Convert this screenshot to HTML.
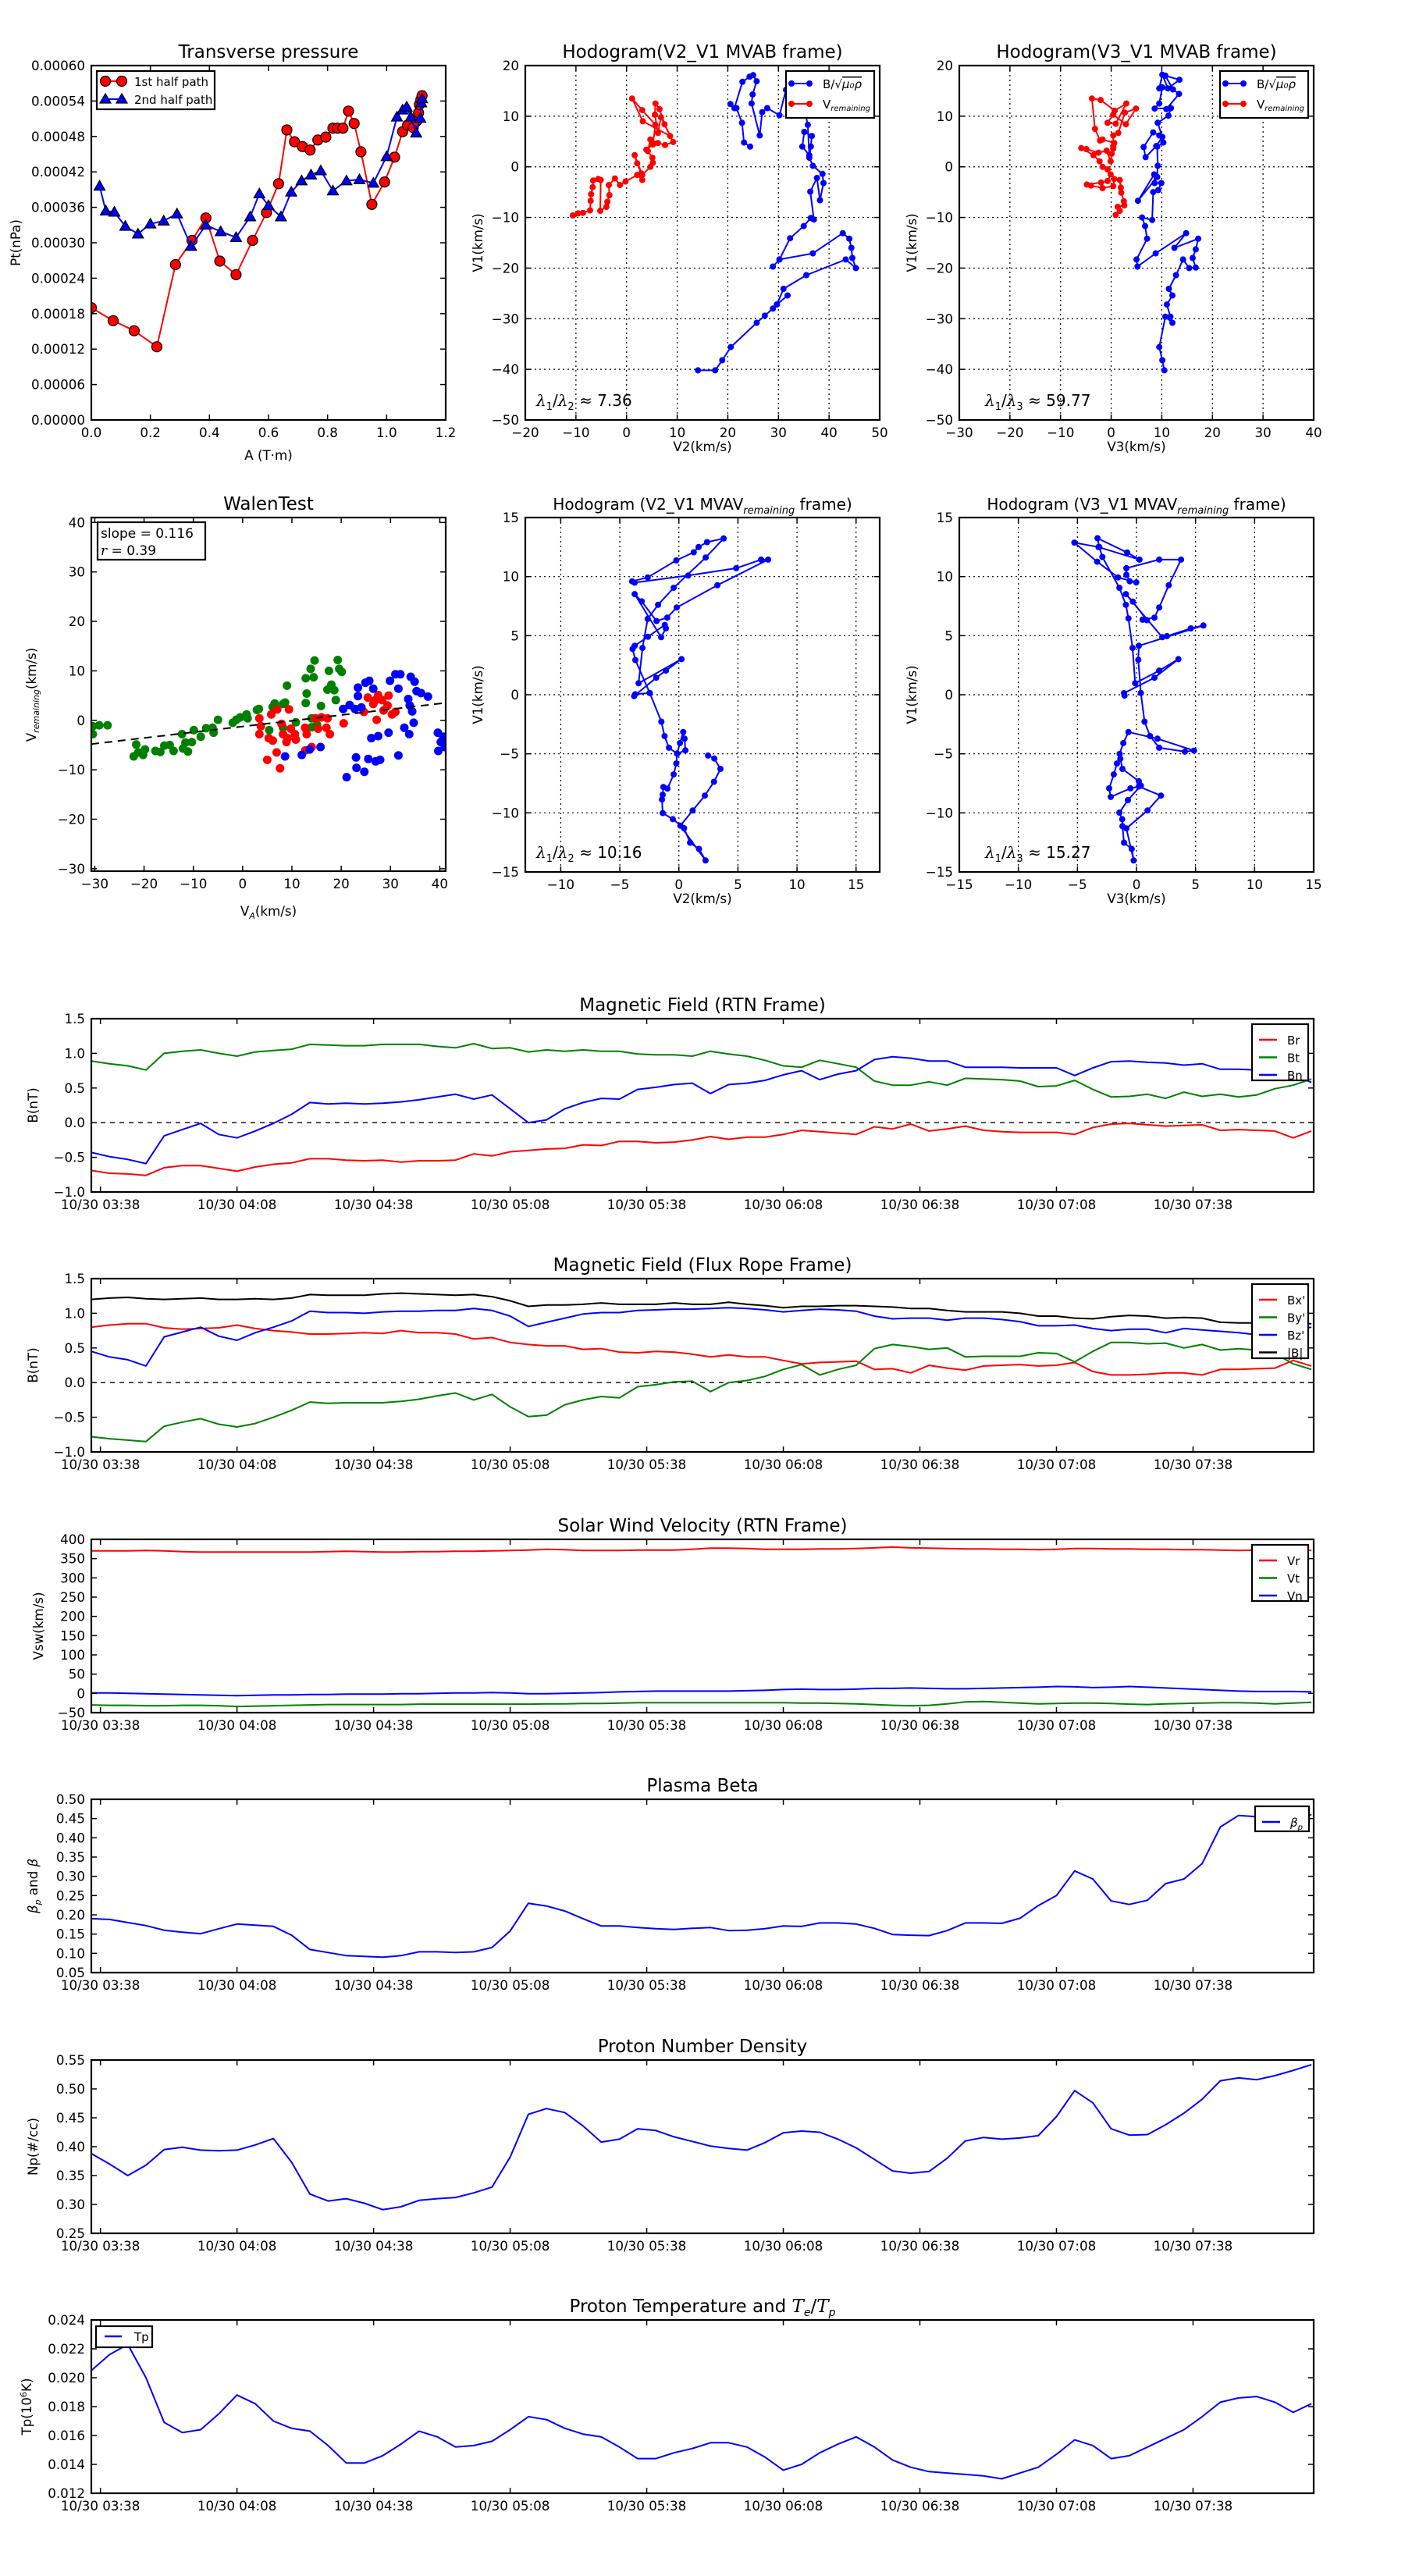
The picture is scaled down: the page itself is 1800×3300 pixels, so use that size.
<!DOCTYPE html>
<html><head><meta charset="utf-8"><title>Flux rope analysis</title>
<style>
html,body{margin:0;padding:0;background:#fff;}
svg{display:block;font-family:"DejaVu Sans","Liberation Sans",sans-serif;}
</style></head>
<body>
<svg id="fig" xmlns="http://www.w3.org/2000/svg" width="1800" height="3300" viewBox="0 0 1800 3300">
<rect x="0" y="0" width="1800" height="3300" fill="#fff"/>
<defs id="defs"></defs>
</svg>
<script>
// ---------- Transverse pressure ----------
const ptA1 = [0,0.074,0.145,0.222,0.285,0.341,0.388,0.435,0.490,0.546,0.593,0.634,0.662,0.688,0.715,0.741,0.767,0.794,0.818,0.834,0.852,0.871,0.890,0.913,0.950,0.993,1.027,1.054,1.071,1.090,1.102,1.108,1.111,1.116,1.120];
const ptP1 = [0.000190,0.000168,0.000151,0.000124,0.000263,0.000304,0.000342,0.000269,0.000246,0.000304,0.000351,0.000400,0.000491,0.000471,0.000463,0.000457,0.000474,0.000479,0.000494,0.000494,0.000494,0.000523,0.000502,0.000454,0.000365,0.000403,0.000445,0.000488,0.000499,0.000495,0.000506,0.000520,0.000534,0.000542,0.000549];
const ptA2 = [0.028,0.049,0.078,0.115,0.158,0.200,0.245,0.290,0.338,0.388,0.438,0.490,0.538,0.569,0.600,0.642,0.677,0.712,0.744,0.777,0.818,0.864,0.908,0.955,1.000,1.035,1.054,1.068,1.082,1.100,1.114,1.117,1.120];
const ptP2 = [0.000396,0.000354,0.000352,0.000328,0.000315,0.000332,0.000337,0.000349,0.000294,0.000330,0.000319,0.000309,0.000344,0.000383,0.000363,0.000344,0.000386,0.000405,0.000415,0.000422,0.000388,0.000405,0.000407,0.000401,0.000446,0.000513,0.000525,0.000530,0.000513,0.000486,0.000511,0.000537,0.000544];

// ---------- Hodogram V2_V1 MVAB ----------
const h1BlueX = [14.1,17.5,18.9,20.6,25.7,27.3,28.9,29.7,31.8,29.7,31.0,35.5,43.3,45.3,44.6,44.4,44.0,42.7,36.8,30.2,28.9,30.2,32.3,35.0,36.4,37.0,36.3,37.6,38.2,38.9,38.7,36.8,36.1,36.4,36.6,35.1,34.7,36.1,35.8,35.3,31.5,30.2,27.8,26.8,26.3,24.7,24.9,25.7,25.0,24.3,22.9,21.3,20.5,21.7,22.8,23.2,24.4];
const h1BlueY = [-40.2,-40.2,-38.2,-35.6,-30.8,-29.4,-28.0,-27.2,-25.4,-27.2,-24.1,-21.4,-18.3,-20.0,-18.0,-16.0,-14.2,-13.1,-17.1,-18.3,-19.7,-18.3,-14.1,-11.7,-10.1,-10.4,-4.9,-2.2,-6.6,-3.2,-1.4,0.2,1.8,4.0,6.1,6.9,4.0,2.3,8.3,10.6,15.2,10.2,11.6,10.8,6.2,12.5,14.3,16.9,18.1,17.8,16.8,11.6,12.4,11.6,8.7,4.8,4.0];
const h1RedX = [-10.6,-9.6,-8.6,-7.2,-7.1,-7.0,-6.7,-6.6,-5.6,-5.1,-5.2,-4.0,-3.8,-3.4,-3.5,-2.3,-1.3,-0.2,2.1,3.1,2.9,2.1,1.6,3.1,4.7,5.2,5.1,4.2,4.7,6.2,7.6,9.2,7.5,6.5,5.7,5.6,6.2,6.8,8.6,3.2,1.1,3.1,5.7,5.2,3.9];
const h1RedY = [-9.6,-9.2,-9.1,-8.6,-6.7,-5.4,-4.0,-2.7,-2.4,-2.6,-8.7,-7.9,-6.9,-5.6,-3.6,-2.3,-3.6,-2.9,-1.6,-2.6,-1.3,0.7,2.3,-1.6,0.0,0.8,1.8,3.1,5.4,4.7,4.3,4.9,8.4,11.4,12.5,10.3,6.7,9.8,6.1,9.0,13.5,11.2,8.3,4.4,3.4];

// ---------- Hodogram V3_V1 MVAB ----------
const h2BlueX = [10.5,10.1,9.5,10.7,12.1,11.7,11.0,12.1,11.4,12.8,14.2,15.4,16.7,16.1,16.7,17.2,12.5,14.8,8.8,5.2,5.0,7.1,6.7,6.1,8.1,8.3,9.3,9.9,8.6,8.5,5.3,9.1,9.2,9.1,10.3,9.5,8.3,6.4,6.8,8.9,10.1,9.2,11.3,11.8,8.6,9.5,10.1,9.5,10.1,11.2,13.5,10.7,12.2,13.4,10.9];
const h2BlueY = [-40.2,-38.2,-35.6,-29.6,-30.8,-29.6,-27.2,-25.4,-24.1,-21.4,-18.3,-20.0,-19.9,-18.0,-16.3,-14.2,-16.0,-13.1,-17.1,-19.7,-18.3,-14.2,-11.7,-10.0,-10.5,-5.0,-4.6,-3.2,-3.2,-1.5,-6.7,-2.0,0.2,4.0,4.8,6.2,6.8,3.9,1.9,4.1,5.9,8.7,10.1,11.6,11.5,12.5,15.7,15.5,18.2,15.5,17.2,18.0,15.3,14.4,11.4];
const h2RedX = [0.9,1.7,1.3,2.6,2.5,2.0,1.9,1.7,0.6,0.4,-1.7,-4.0,-4.8,-2.0,-0.7,-0.1,-0.7,-1.7,-2.3,-3.5,-5.9,-4.9,-2.5,-0.9,-0.1,0.1,0.4,0.6,-1.7,-2.2,-3.2,-3.8,-2.1,0.7,3.0,0.9,-0.7,0.4,2.9,4.9,2.7,1.4,0.4,0.4];
const h2RedY = [-9.5,-8.7,-7.9,-7.6,-6.8,-5.1,-4.1,-2.6,-2.4,-3.8,-4.2,-3.7,-3.5,-3.1,-2.8,-1.5,-0.5,0.0,1.1,2.3,3.7,3.5,2.8,3.2,1.1,2.6,3.6,4.7,5.4,5.2,7.5,13.5,13.2,11.1,12.5,8.5,8.7,10.3,8.4,11.5,10.7,6.7,6.2,4.1];

// ---------- Walen test ----------
const walGreenX = [-30.4,-30.4,-29.1,-27.4,-22.1,-21.6,-21.2,-20.2,-19.8,-17.7,-16.7,-15.9,-14.8,-14.0,-12.3,-12.1,-11.6,-11.1,-10.3,-9.9,-8.5,-7.4,-6.1,-5.9,-5.0,-2.0,-1.3,-0.5,0.8,1.0,2.9,3.3,5.4,6.1,6.5,8.2,8.6,9.0,8.2,10.8,12.8,13.0,12.8,13.8,14.4,14.6,14.0,14.0,15.1,15.9,17.2,17.5,18.0,18.6,18.9,19.3,19.6,20.1];
const walGreenY = [-1.2,-2.8,-1.0,-1.0,-7.3,-4.9,-6.5,-7.0,-5.9,-6.2,-6.4,-5.1,-5.0,-6.2,-2.8,-5.7,-4.5,-6.3,-4.4,-2.0,-3.3,-1.6,-1.5,-2.5,0.1,-0.5,0.1,0.6,1.2,0.4,2.1,2.3,-2.0,2.7,3.4,3.3,3.6,7.0,-1.5,-0.4,3.5,5.4,8.5,10.4,8.7,12.1,0.4,-1.4,-0.9,2.9,6.2,10.0,7.2,6.1,4.1,12.2,10.4,9.8];
const walRedX = [3.4,3.7,3.4,5.0,5.3,5.8,6.1,6.9,7.0,7.6,7.9,8.2,8.9,9.1,9.4,9.8,10.6,10.8,12.7,13.0,12.7,14.0,14.8,15.3,16.0,17.0,17.2,17.7,20.5,24.6,25.4,26.5,27.2,27.5,28.3,28.6,29.4,29.6,30.3,31.0,27.0];
const walRedY = [0.4,-1.2,-2.8,-8.0,-3.6,1.2,-4.1,-6.5,2.2,-9.7,-0.7,-2.8,-4.4,-3.6,2.2,-1.7,-2.8,-3.9,-1.5,-2.8,-6.1,-5.4,0.4,-1.7,0.6,-1.5,0.4,-2.8,-0.6,1.7,4.6,3.3,0.1,5.1,4.1,2.0,3.0,5.0,1.2,1.7,4.1];
const walBlueX = [8.6,12.0,13.6,15.8,20.4,21.1,21.7,22.8,23.0,23.1,23.4,23.4,24.1,24.7,24.9,25.5,25.7,26.1,26.5,27.0,27.5,27.9,29.6,29.9,31.0,31.6,31.6,32.0,32.8,33.6,33.8,34.1,34.4,34.7,34.9,35.3,36.2,37.6,39.6,39.7,40.2,40.7,41.0,33.9];
const walBlueY = [-7.3,-7.0,-5.9,-5.4,2.3,-11.5,3.1,2.3,-7.5,-9.6,6.6,4.9,2.6,-10.4,7.6,-7.8,8.0,-3.6,6.4,-8.3,-3.2,-8.0,-2.5,8.0,9.3,6.4,-7.1,9.3,-1.5,4.3,-2.8,8.8,1.8,-0.5,7.8,5.9,5.5,4.8,-2.5,-6.2,-4.4,-3.3,-5.4,3.0];
const walSlope = [0.116];
const walIntercept = [-1.25];

// ---------- Hodogram V2_V1 MVAV ----------
const h3X = [2.47,3.0,3.52,2.97,2.2,1.17,0.13,2.26,1.7,0.95,0.44,-0.51,-1.37,-1.43,-1.37,-1.32,-0.97,-0.44,-0.22,-0.15,0.55,0.48,0.37,0.09,-0.15,-0.84,-1.21,-1.48,-2.47,-3.7,-3.79,-1.92,-1.1,0.22,-3.41,-3.08,-2.64,-1.76,-0.44,2.27,3.79,2.38,1.67,1.26,-0.22,-2.64,-3.96,-3.74,0.79,4.85,6.96,7.56,3.26,-0.18,-0.99,-1.89,-3.15,-3.74,-1.5,-1.1,-1.19,-2.62,-3.74,-3.92,-3.68,-2.47];
const h3Y = [-5.15,-5.4,-6.28,-7.37,-8.54,-9.8,-11.08,-14.03,-13.05,-12.52,-11.3,-10.53,-10.02,-8.87,-8.47,-7.81,-7.94,-6.75,-5.82,-4.98,-4.71,-3.72,-3.16,-4.09,-4.98,-4.49,-3.5,-2.28,0.15,0.04,-0.11,1.44,2.04,3.01,0.97,3.96,6.42,7.61,9.05,11.62,13.23,12.92,12.5,12.06,11.37,9.93,9.6,9.49,10.09,10.71,11.44,11.44,9.27,7.39,6.53,6.24,7.9,8.52,4.87,5.62,5.91,4.91,4.14,3.87,2.94,0.15];

// ---------- Hodogram V3_V1 MVAV ----------
const h4X = [-1.01,-1.06,1.52,3.55,1.92,-0.11,-0.33,-0.68,-0.9,-1.45,-2.89,-3.15,-3.3,-0.79,0.26,-3.22,-5.26,-3.33,-1.56,-0.02,-0.57,-0.86,-0.86,1.92,3.77,2.73,1.92,1.52,0.51,0.88,-0.31,-0.9,2.18,2.58,4.6,5.66,0.2,0.15,0.37,0.68,1.15,1.92,4.1,4.87,1.78,-0.68,-1.12,-1.43,-1.37,-1.19,0.2,0.37,-0.73,-1.45,-1.21,-1.19,-1.06,-0.4,-0.24,-0.86,0.93,2.07,0.2,-0.51,-2.18,-2.31,-1.92,-1.65];
const h4Y = [-0.07,0.13,1.44,3.01,2.04,0.97,3.96,6.46,7.61,9.05,11.66,12.5,13.25,12.04,11.44,12.5,12.88,11.26,9.93,9.51,9.6,10.15,10.71,11.44,11.44,9.27,7.39,6.53,6.35,6.31,7.88,8.52,4.87,4.96,5.62,5.86,4.14,2.96,0.15,-2.28,-3.5,-4.49,-4.82,-4.73,-3.72,-3.16,-4.09,-5.0,-5.42,-6.28,-7.32,-7.7,-8.92,-9.98,-10.53,-11.13,-12.52,-13.05,-14.03,-11.31,-9.8,-8.54,-7.77,-7.92,-8.65,-7.92,-6.75,-5.82];

// ---------- Time series (minutes after 10/30 03:36) ----------
const tMin = [0,4,8,12,16,20,24,28,32,36,40,44,48,52,56,60,64,68,72,76,80,84,88,92,96,100,104,108,112,116,120,124,128,132,136,140,144,148,152,156,160,164,168,172,176,180,184,188,192,196,200,204,208,212,216,220,224,228,232,236,240,244,248,252,256,260,264,268];
const timeTickMin = [2,32,62,92,122,152,182,212,242];
const timeTickLabels = ['10/30 03:38','10/30 04:08','10/30 04:38','10/30 05:08','10/30 05:38','10/30 06:08','10/30 06:38','10/30 07:08','10/30 07:38'];

const Br = [-0.69,-0.73,-0.74,-0.76,-0.65,-0.62,-0.62,-0.66,-0.7,-0.64,-0.6,-0.58,-0.52,-0.52,-0.54,-0.55,-0.54,-0.57,-0.55,-0.55,-0.54,-0.45,-0.48,-0.42,-0.4,-0.38,-0.37,-0.32,-0.33,-0.27,-0.27,-0.29,-0.28,-0.25,-0.2,-0.24,-0.21,-0.21,-0.17,-0.11,-0.13,-0.15,-0.17,-0.06,-0.09,-0.02,-0.12,-0.09,-0.05,-0.11,-0.13,-0.14,-0.14,-0.14,-0.17,-0.07,-0.02,-0.01,-0.03,-0.05,-0.04,-0.03,-0.11,-0.1,-0.11,-0.12,-0.22,-0.12];
const Bt = [0.89,0.85,0.82,0.76,1.0,1.03,1.05,1.0,0.96,1.02,1.04,1.06,1.13,1.12,1.11,1.11,1.13,1.13,1.13,1.1,1.08,1.14,1.07,1.08,1.02,1.05,1.03,1.05,1.03,1.03,0.99,0.98,0.98,0.96,1.03,0.99,0.96,0.9,0.82,0.8,0.9,0.85,0.8,0.6,0.54,0.54,0.59,0.54,0.64,0.63,0.62,0.6,0.52,0.53,0.61,0.48,0.37,0.38,0.41,0.35,0.44,0.38,0.41,0.37,0.4,0.49,0.54,0.63];
const Bn = [-0.43,-0.49,-0.53,-0.59,-0.19,-0.1,-0.01,-0.17,-0.22,-0.12,-0.01,0.12,0.29,0.27,0.28,0.27,0.28,0.3,0.33,0.37,0.41,0.34,0.4,0.2,0.0,0.04,0.2,0.29,0.35,0.34,0.48,0.51,0.55,0.57,0.42,0.55,0.57,0.61,0.69,0.75,0.62,0.7,0.75,0.91,0.95,0.93,0.89,0.89,0.8,0.8,0.8,0.79,0.79,0.79,0.68,0.79,0.88,0.89,0.87,0.86,0.83,0.85,0.77,0.77,0.76,0.76,0.7,0.58];

const Bxp = [0.8,0.83,0.85,0.85,0.79,0.77,0.78,0.79,0.83,0.78,0.75,0.73,0.7,0.7,0.71,0.72,0.71,0.75,0.72,0.72,0.7,0.63,0.65,0.58,0.55,0.53,0.53,0.48,0.49,0.44,0.43,0.45,0.44,0.41,0.37,0.4,0.37,0.37,0.32,0.27,0.29,0.3,0.31,0.19,0.2,0.14,0.25,0.21,0.18,0.24,0.25,0.26,0.24,0.25,0.29,0.16,0.11,0.11,0.12,0.14,0.14,0.11,0.19,0.19,0.2,0.21,0.32,0.24];
const Byp = [-0.78,-0.81,-0.83,-0.85,-0.63,-0.57,-0.52,-0.6,-0.64,-0.59,-0.5,-0.4,-0.28,-0.3,-0.29,-0.29,-0.29,-0.27,-0.24,-0.19,-0.15,-0.25,-0.17,-0.35,-0.49,-0.47,-0.32,-0.25,-0.2,-0.22,-0.06,-0.03,0.01,0.02,-0.13,0.0,0.03,0.09,0.19,0.26,0.11,0.19,0.25,0.49,0.55,0.52,0.48,0.5,0.37,0.38,0.38,0.38,0.43,0.42,0.3,0.45,0.58,0.58,0.56,0.57,0.5,0.55,0.47,0.49,0.47,0.42,0.27,0.19];
const Bzp = [0.45,0.37,0.33,0.24,0.66,0.73,0.8,0.67,0.61,0.72,0.8,0.89,1.03,1.01,1.01,1.0,1.02,1.03,1.03,1.04,1.04,1.07,1.04,0.96,0.81,0.87,0.93,0.99,1.01,1.01,1.04,1.05,1.06,1.06,1.07,1.08,1.07,1.05,1.02,1.04,1.06,1.05,1.03,0.96,0.92,0.93,0.93,0.9,0.93,0.93,0.91,0.88,0.82,0.82,0.83,0.78,0.75,0.77,0.77,0.72,0.78,0.76,0.74,0.72,0.69,0.72,0.75,0.8];
const Bmag = [1.2,1.22,1.23,1.21,1.2,1.21,1.22,1.2,1.2,1.21,1.2,1.22,1.27,1.26,1.26,1.26,1.28,1.29,1.28,1.27,1.26,1.27,1.24,1.18,1.1,1.12,1.12,1.13,1.15,1.13,1.13,1.13,1.15,1.13,1.13,1.16,1.13,1.11,1.08,1.1,1.1,1.11,1.11,1.1,1.09,1.07,1.07,1.04,1.02,1.02,1.02,1.0,0.96,0.96,0.93,0.92,0.95,0.97,0.96,0.93,0.94,0.93,0.87,0.86,0.86,0.86,0.85,0.85];

const Vr = [370,370,370,371,370,368,367,367,367,367,367,367,367,368,369,368,367,367,368,368,369,369,370,371,372,374,373,371,371,371,372,372,372,374,377,377,376,374,374,374,375,375,376,378,380,378,377,376,375,375,374,374,373,374,376,376,375,375,374,374,373,373,372,371,372,374,376,371];
const Vt = [-30,-31,-31,-32,-32,-31,-31,-32,-34,-33,-32,-31,-30,-29,-29,-29,-29,-29,-28,-28,-28,-28,-28,-28,-28,-27,-27,-26,-26,-25,-24,-24,-24,-24,-24,-24,-24,-24,-24,-25,-25,-26,-27,-29,-31,-32,-31,-27,-22,-21,-23,-25,-27,-26,-25,-25,-26,-28,-29,-27,-26,-25,-24,-24,-25,-27,-25,-23];
const Vn = [1,1,0,-1,-2,-3,-4,-5,-6,-5,-4,-4,-3,-3,-2,-2,-2,-1,-1,0,1,1,2,1,-1,-1,0,1,2,4,5,6,6,6,6,6,7,8,10,11,10,10,11,13,13,14,13,12,12,13,14,15,16,18,17,15,16,18,16,14,12,10,8,6,5,5,5,4];

const betaP = [0.19,0.188,0.18,0.172,0.16,0.155,0.151,0.164,0.176,0.173,0.17,0.147,0.11,0.102,0.094,0.092,0.09,0.094,0.104,0.104,0.102,0.104,0.115,0.158,0.23,0.223,0.21,0.19,0.171,0.171,0.167,0.164,0.162,0.165,0.167,0.159,0.16,0.164,0.171,0.17,0.179,0.179,0.176,0.165,0.149,0.147,0.146,0.159,0.179,0.179,0.178,0.191,0.224,0.25,0.314,0.293,0.236,0.227,0.238,0.281,0.293,0.333,0.428,0.458,0.455,0.454,0.452,0.46];
const Np = [0.388,0.37,0.35,0.368,0.395,0.399,0.394,0.393,0.394,0.403,0.414,0.373,0.318,0.306,0.31,0.302,0.291,0.296,0.307,0.31,0.312,0.32,0.33,0.382,0.456,0.466,0.459,0.436,0.408,0.413,0.431,0.428,0.417,0.409,0.401,0.397,0.394,0.407,0.424,0.427,0.425,0.413,0.398,0.378,0.358,0.354,0.357,0.38,0.41,0.416,0.413,0.415,0.419,0.452,0.497,0.476,0.431,0.42,0.421,0.438,0.458,0.482,0.514,0.519,0.516,0.523,0.532,0.542];
const Tp = [0.0205,0.0216,0.0223,0.0200,0.0169,0.0162,0.0164,0.0175,0.0188,0.0182,0.0170,0.0165,0.0163,0.0153,0.0141,0.0141,0.0146,0.0154,0.0163,0.0159,0.0152,0.0153,0.0156,0.0164,0.0173,0.0171,0.0165,0.0161,0.0159,0.0152,0.0144,0.0144,0.0148,0.0151,0.0155,0.0155,0.0152,0.0145,0.0136,0.0140,0.0148,0.0154,0.0159,0.0152,0.0143,0.0138,0.0135,0.0134,0.0133,0.0132,0.0130,0.0134,0.0138,0.0147,0.0157,0.0153,0.0144,0.0146,0.0152,0.0158,0.0164,0.0173,0.0183,0.0186,0.0187,0.0183,0.0176,0.0182];

// ================= drawing =================
const NS = 'http://www.w3.org/2000/svg';
const svg = document.getElementById('fig');
const defs = document.getElementById('defs');
function el(tag, attrs, parent) {
  const e = document.createElementNS(NS, tag);
  for (const k in attrs) e.setAttribute(k, attrs[k]);
  (parent || svg).appendChild(e);
  return e;
}
function mfmt(s) { return String(s).replace(/-/g, '\u2212'); }
function txt(parent, x, y, s, size, anchor, name) {
  const t = el('text', {x: x, y: y, 'font-size': size, 'text-anchor': anchor || 'start', fill: '#000'}, parent);
  t.textContent = s;
  
  
  return t;
}
function tspan(t, s, attrs) {
  const sp = el('tspan', attrs || {}, t);
  sp.textContent = s;
  return sp;
}
function rotLabel(parent, cx, cy, name) {
  const t = el('text', {x: 0, y: 0, 'font-size': 16.7, 'text-anchor': 'middle', transform: 'translate(' + cx + ',' + cy + ') rotate(-90)'}, parent);
  
  
  return t;
}

function makeAxes(o) {
  const A = {o: o};
  A.sx = v => o.x + (v - o.xmin) / (o.xmax - o.xmin) * o.w;
  A.sy = v => o.y + o.h - (v - o.ymin) / (o.ymax - o.ymin) * o.h;
  A.g = el('g', {});
  
  
  const cp = el('clipPath', {id: o.name + '-clip'}, defs);
  el('rect', {x: o.x, y: o.y, width: o.w, height: o.h}, cp);
  if (o.grid) {
    const gg = el('g', {stroke: '#000', 'stroke-width': 1.2, 'stroke-dasharray': '2,4'}, A.g);
    
    
    o.xticks.forEach(v => { const X = A.sx(v); if (X > o.x + 2 && X < o.x + o.w - 2) el('line', {x1: X, x2: X, y1: o.y, y2: o.y + o.h}, gg); });
    o.yticks.forEach(v => { const Y = A.sy(v); if (Y > o.y + 2 && Y < o.y + o.h - 2) el('line', {x1: o.x, x2: o.x + o.w, y1: Y, y2: Y}, gg); });
  }
  A.dg = el('g', {'clip-path': 'url(#' + o.name + '-clip)'}, A.g);
  A.finish = function () {
    const tg = el('g', {stroke: '#000', 'stroke-width': 1.5}, A.g);
    o.xticks.forEach((v, i) => {
      const X = A.sx(v);
      el('line', {x1: X, x2: X, y1: o.y + o.h, y2: o.y + o.h - 7}, tg);
      el('line', {x1: X, x2: X, y1: o.y, y2: o.y + 7}, tg);
      const lab = o.xlabels ? o.xlabels[i] : mfmt(o.xfmt ? o.xfmt(v) : v);
      txt(A.g, X, o.y + o.h + 22, lab, 16.7, 'middle', o.name + '-xtick-label');
    });
    o.yticks.forEach(v => {
      const Y = A.sy(v);
      el('line', {x1: o.x, x2: o.x + 7, y1: Y, y2: Y}, tg);
      el('line', {x1: o.x + o.w, x2: o.x + o.w - 7, y1: Y, y2: Y}, tg);
      txt(A.g, o.x - 8, Y + 6, mfmt(o.yfmt ? o.yfmt(v) : v), 16.7, 'end', o.name + '-ytick-label');
    });
    const fr = el('rect', {x: o.x, y: o.y, width: o.w, height: o.h, fill: 'none', stroke: '#000', 'stroke-width': 2.2}, A.g);
    
    
    if (o.title) {
      const t = txt(A.g, o.x + o.w / 2, o.y - 10, '', o.titleSize || 23, 'middle', o.name + '-title');
      o.title(t);
    }
  };
  return A;
}
function pathD(A, xs, ys) {
  return xs.map((v, i) => (i ? 'L' : 'M') + A.sx(v).toFixed(1) + ',' + A.sy(ys[i]).toFixed(1)).join(' ');
}
function drawLine(A, xs, ys, color, name, w, dash) {
  const p = el('path', {d: pathD(A, xs, ys), fill: 'none', stroke: color, 'stroke-width': w || 2, 'stroke-linejoin': 'round'}, A.dg);
  if (dash) p.setAttribute('stroke-dasharray', dash);
  
  
  return p;
}
function drawDots(A, xs, ys, color, r, name, stroke) {
  const g = el('g', {fill: color}, A.dg);
  
  
  xs.forEach((v, i) => {
    const c = el('circle', {cx: A.sx(v).toFixed(1), cy: A.sy(ys[i]).toFixed(1), r: r}, g);
    if (stroke) { c.setAttribute('stroke', '#000'); c.setAttribute('stroke-width', 1.2); }
  });
}
function drawTris(A, xs, ys, color, r, name) {
  const g = el('g', {fill: color, stroke: '#000', 'stroke-width': 1.2}, A.dg);
  
  
  xs.forEach((v, i) => {
    const X = A.sx(v), Y = A.sy(ys[i]);
    el('polygon', {points: X + ',' + (Y - r) + ' ' + (X - r) + ',' + (Y + r * 0.75) + ' ' + (X + r) + ',' + (Y + r * 0.75)}, g);
  });
}
function legendBox(x, y, w, h, name) {
  const g = el('g', {});
  
  
  el('rect', {x: x, y: y, width: w, height: h, fill: '#fff', stroke: '#000', 'stroke-width': 2.2}, g);
  return g;
}
function tsRange(a, b, step, dec) { const r = []; for (let v = a; v <= b + step / 1000; v += step) r.push(+v.toFixed(dec)); return r; }

// ---------- Panel 1: Transverse pressure ----------
(function () {
  const A = makeAxes({name: 'transverse-pressure', x: 117, y: 84, w: 454, h: 454, xmin: 0, xmax: 1.2, ymin: 0, ymax: 0.0006,
    xticks: tsRange(0, 1.2, 0.2, 1), yticks: tsRange(0, 0.0006, 0.00006, 5), xfmt: v => v.toFixed(1), yfmt: v => v.toFixed(5),
    title: t => { t.textContent = 'Transverse pressure'; }});
  drawLine(A, ptA1, ptP1, '#ff0000', 'first-half-path-line', 2);
  drawDots(A, ptA1, ptP1, '#ff0000', 6.5, 'first-half-path-markers', true);
  drawLine(A, ptA2, ptP2, '#0000ff', 'second-half-path-line', 2);
  drawTris(A, ptA2, ptP2, '#0000ff', 7, 'second-half-path-markers');
  A.finish();
  txt(svg, 344, 589, 'A (T\u00b7m)', 16.7, 'middle', 'x-axis-title');
  const yl = rotLabel(svg, 26, 311, 'y-axis-title'); yl.textContent = 'Pt(nPa)';
  const lg = legendBox(124, 91, 151, 49, 'legend');
  el('line', {x1: 135, x2: 156, y1: 104, y2: 104, stroke: '#ff0000', 'stroke-width': 2}, lg);
  el('circle', {cx: 135, cy: 104, r: 6.5, fill: '#ff0000', stroke: '#000', 'stroke-width': 1.2}, lg);
  el('circle', {cx: 156, cy: 104, r: 6.5, fill: '#ff0000', stroke: '#000', 'stroke-width': 1.2}, lg);
  txt(lg, 172, 110, '1st half path', 15, 'start', 'legend-entry');
  el('line', {x1: 135, x2: 156, y1: 127, y2: 127, stroke: '#0000ff', 'stroke-width': 2}, lg);
  [135, 156].forEach(X => el('polygon', {points: X + ',' + 120 + ' ' + (X - 7) + ',' + 132 + ' ' + (X + 7) + ',' + 132, fill: '#0000ff', stroke: '#000', 'stroke-width': 1.2}, lg));
  txt(lg, 172, 133, '2nd half path', 15, 'start', 'legend-entry');
})();

// ---------- hodogram helper ----------
function hodo(cfg) {
  const A = makeAxes({name: cfg.name, x: cfg.x, y: cfg.y, w: 454, h: 454, xmin: cfg.xmin, xmax: cfg.xmax, ymin: cfg.ymin, ymax: cfg.ymax,
    xticks: cfg.xticks, yticks: cfg.yticks, grid: true, title: cfg.title, titleSize: cfg.titleSize});
  cfg.series.forEach(s => {
    drawLine(A, s.x, s.y, s.c, s.name + '-line', 2);
    drawDots(A, s.x, s.y, s.c, 4, s.name + '-points', false);
  });
  A.finish();
  txt(svg, cfg.x + 227, cfg.y + 494, cfg.xlabel, 16.7, 'middle', 'x-axis-title');
  const yl = rotLabel(svg, cfg.x - 55, cfg.y + 227, 'y-axis-title'); yl.textContent = 'V1(km/s)';
  const lt = txt(svg, cfg.lamX, cfg.y + 436, '', 20, 'start', 'eigenvalue-ratio');
  tspan(lt, '\u03bb', {'font-style': 'italic', 'font-family': '"DejaVu Serif",serif'});
  tspan(lt, '1', {'font-size': 13, dy: 5});
  tspan(lt, '/', {dy: -5});
  tspan(lt, '\u03bb', {'font-style': 'italic', 'font-family': '"DejaVu Serif",serif'});
  tspan(lt, cfg.lamSub, {'font-size': 13, dy: 5});
  tspan(lt, ' \u2248 ' + cfg.lamVal, {dy: -5});
  if (cfg.legend) {
    const lx = cfg.x + 334, ly = cfg.y + 7;
    const lg = legendBox(lx, ly, 113, 60, 'legend');
    el('line', {x1: lx + 7, x2: lx + 30, y1: ly + 16, y2: ly + 16, stroke: '#0000ff', 'stroke-width': 2}, lg);
    el('circle', {cx: lx + 7, cy: ly + 16, r: 4, fill: '#0000ff'}, lg);
    el('circle', {cx: lx + 30, cy: ly + 16, r: 4, fill: '#0000ff'}, lg);
    const t1 = txt(lg, lx + 47, ly + 22, 'B/\u221a', 15, 'start', 'legend-entry');
    tspan(t1, '\u03bc\u2080\u03c1', {'font-style': 'italic', 'text-decoration': 'overline'});
    el('line', {x1: lx + 7, x2: lx + 30, y1: ly + 42, y2: ly + 42, stroke: '#ff0000', 'stroke-width': 2}, lg);
    el('circle', {cx: lx + 7, cy: ly + 42, r: 4, fill: '#ff0000'}, lg);
    el('circle', {cx: lx + 30, cy: ly + 42, r: 4, fill: '#ff0000'}, lg);
    const t2 = txt(lg, lx + 47, ly + 48, 'V', 15, 'start', 'legend-entry');
    tspan(t2, 'remaining', {'font-size': 10, 'font-style': 'italic', dy: 3});
  }
}
hodo({name: 'hodogram-v2-v1-mvab', x: 673, y: 84, xmin: -20, xmax: 50, ymin: -50, ymax: 20,
  xticks: tsRange(-20, 50, 10, 0), yticks: tsRange(-50, 20, 10, 0), xlabel: 'V2(km/s)', lamX: 687, lamSub: '2', lamVal: '7.36', legend: true,
  title: t => { t.textContent = 'Hodogram(V2_V1 MVAB frame)'; },
  series: [{x: h1BlueX, y: h1BlueY, c: '#0000ff', name: 'b-alfven'}, {x: h1RedX, y: h1RedY, c: '#ff0000', name: 'v-remaining'}]});
hodo({name: 'hodogram-v3-v1-mvab', x: 1229, y: 84, xmin: -30, xmax: 40, ymin: -50, ymax: 20,
  xticks: tsRange(-30, 40, 10, 0), yticks: tsRange(-50, 20, 10, 0), xlabel: 'V3(km/s)', lamX: 1262, lamSub: '3', lamVal: '59.77', legend: true,
  title: t => { t.textContent = 'Hodogram(V3_V1 MVAB frame)'; },
  series: [{x: h2BlueX, y: h2BlueY, c: '#0000ff', name: 'b-alfven'}, {x: h2RedX, y: h2RedY, c: '#ff0000', name: 'v-remaining'}]});
hodo({name: 'hodogram-v2-v1-mvav', x: 673, y: 663, xmin: -13, xmax: 17, ymin: -15, ymax: 15, titleSize: 20,
  xticks: tsRange(-10, 15, 5, 0), yticks: tsRange(-15, 15, 5, 0), xlabel: 'V2(km/s)', lamX: 687, lamSub: '2', lamVal: '10.16', legend: false,
  title: t => { t.textContent = 'Hodogram (V2_V1 MVAV'; tspan(t, 'remaining', {'font-size': 13, 'font-style': 'italic', dy: 5}); tspan(t, ' frame)', {dy: -5}); },
  series: [{x: h3X, y: h3Y, c: '#0000ff', name: 'b-alfven'}]});
hodo({name: 'hodogram-v3-v1-mvav', x: 1229, y: 663, xmin: -15, xmax: 15, ymin: -15, ymax: 15, titleSize: 20,
  xticks: tsRange(-15, 15, 5, 0), yticks: tsRange(-15, 15, 5, 0), xlabel: 'V3(km/s)', lamX: 1262, lamSub: '3', lamVal: '15.27', legend: false,
  title: t => { t.textContent = 'Hodogram (V3_V1 MVAV'; tspan(t, 'remaining', {'font-size': 13, 'font-style': 'italic', dy: 5}); tspan(t, ' frame)', {dy: -5}); },
  series: [{x: h4X, y: h4Y, c: '#0000ff', name: 'b-alfven'}]});

// ---------- Walen test ----------
(function () {
  const A = makeAxes({name: 'walen-test', x: 117, y: 663, w: 454, h: 453, xmin: -30.7, xmax: 41.2, ymin: -30.5, ymax: 41,
    xticks: tsRange(-30, 40, 10, 0), yticks: tsRange(-30, 40, 10, 0),
    title: t => { t.textContent = 'WalenTest'; }});
  drawDots(A, walGreenX, walGreenY, '#008000', 5.5, 'walen-green-points', false);
  drawDots(A, walRedX, walRedY, '#ff0000', 5.5, 'walen-red-points', false);
  drawDots(A, walBlueX, walBlueY, '#0000ff', 5.5, 'walen-blue-points', false);
  const fx = [A.o.xmin, A.o.xmax];
  const fy = fx.map(v => walSlope[0] * v + walIntercept[0]);
  drawLine(A, fx, fy, '#000', 'walen-fit-line', 2, '10,7');
  A.finish();
  const lg = legendBox(125, 669, 138, 48, 'walen-stats-box');
  txt(lg, 129, 689, 'slope = 0.116', 17, 'start', 'slope-text');
  const r = txt(lg, 129, 711, '', 17, 'start', 'r-text');
  tspan(r, 'r', {'font-style': 'italic', 'font-family': '"DejaVu Serif",serif'}); tspan(r, ' = 0.39');
  const xl = txt(svg, 344, 1173, 'V', 16.7, 'middle', 'x-axis-title');
  tspan(xl, 'A', {'font-size': 11, 'font-style': 'italic', dy: 4}); tspan(xl, '(km/s)', {dy: -4});
  const yl = rotLabel(svg, 46, 890, 'y-axis-title');
  yl.textContent = 'V'; tspan(yl, 'remaining', {'font-size': 11, 'font-style': 'italic', dy: 4}); tspan(yl, '(km/s)', {dy: -4});
})();

// ---------- time series ----------
function tsPanel(cfg) {
  const A = makeAxes({name: cfg.name, x: 117, y: cfg.y, w: 1566, h: 222, xmin: 0, xmax: 268.5, ymin: cfg.ymin, ymax: cfg.ymax,
    xticks: timeTickMin, xlabels: timeTickLabels, yticks: cfg.yticks, yfmt: cfg.yfmt, title: cfg.title});
  if (cfg.zero) drawLine(A, [0, 268.5], [0, 0], '#000', 'zero-line', 1.4, '6,6');
  cfg.series.forEach(s => drawLine(A, tMin, s.v, s.c, s.name, 2));
  A.finish();
  const yl = rotLabel(svg, cfg.ylx, cfg.y + 111, 'y-axis-title');
  cfg.ylab(yl);
  if (cfg.legend) {
    const L = cfg.legend;
    const lg = legendBox(L.x, cfg.y + L.dy, L.w, L.h, 'legend');
    cfg.series.forEach((s, i) => {
      const yy = cfg.y + L.dy + 20 + i * 22.5;
      el('line', {x1: L.x + 9, x2: L.x + 32, y1: yy, y2: yy, stroke: s.c, 'stroke-width': 2.4}, lg);
      const t = txt(lg, L.x + 45, yy + 6, '', 15, 'start', 'legend-entry');
      s.lab(t);
    });
  }
}
const simple = s => t => { t.textContent = s; };
tsPanel({name: 'magnetic-field-rtn', y: 1305, ymin: -1, ymax: 1.5, yticks: tsRange(-1, 1.5, 0.5, 1), yfmt: v => v.toFixed(1), zero: true,
  title: simple('Magnetic Field (RTN Frame)'), ylx: 48, ylab: simple('B(nT)'),
  series: [{v: Br, c: '#ff0000', name: 'br-line', lab: simple('Br')}, {v: Bt, c: '#008000', name: 'bt-line', lab: simple('Bt')}, {v: Bn, c: '#0000ff', name: 'bn-line', lab: simple('Bn')}],
  legend: {x: 1604, dy: 7, w: 72, h: 72}});
tsPanel({name: 'magnetic-field-flux-rope', y: 1638, ymin: -1, ymax: 1.5, yticks: tsRange(-1, 1.5, 0.5, 1), yfmt: v => v.toFixed(1), zero: true,
  title: simple('Magnetic Field (Flux Rope Frame)'), ylx: 48, ylab: simple('B(nT)'),
  series: [{v: Bxp, c: '#ff0000', name: 'bx-prime-line', lab: simple("Bx'")}, {v: Byp, c: '#008000', name: 'by-prime-line', lab: simple("By'")}, {v: Bzp, c: '#0000ff', name: 'bz-prime-line', lab: simple("Bz'")}, {v: Bmag, c: '#000000', name: 'b-magnitude-line', lab: simple('|B|')}],
  legend: {x: 1604, dy: 7, w: 72, h: 95}});
tsPanel({name: 'solar-wind-velocity', y: 1972, ymin: -50, ymax: 400, yticks: tsRange(-50, 400, 50, 0), yfmt: v => v.toFixed(0),
  title: simple('Solar Wind Velocity (RTN Frame)'), ylx: 55, ylab: simple('Vsw(km/s)'),
  series: [{v: Vr, c: '#ff0000', name: 'vr-line', lab: simple('Vr')}, {v: Vt, c: '#008000', name: 'vt-line', lab: simple('Vt')}, {v: Vn, c: '#0000ff', name: 'vn-line', lab: simple('Vn')}],
  legend: {x: 1604, dy: 7, w: 72, h: 72}});
tsPanel({name: 'plasma-beta', y: 2305, ymin: 0.05, ymax: 0.5, yticks: tsRange(0.05, 0.5, 0.05, 2), yfmt: v => v.toFixed(2),
  title: simple('Plasma Beta'), ylx: 48,
  ylab: t => { tspan(t, '\u03b2', {'font-style': 'italic'}); tspan(t, 'p', {'font-size': 11, 'font-style': 'italic', dy: 4}); tspan(t, ' and ', {dy: -4}); tspan(t, '\u03b2', {'font-style': 'italic'}); },
  series: [{v: betaP, c: '#0000ff', name: 'beta-p-line', lab: t => { tspan(t, '\u03b2', {'font-style': 'italic'}); tspan(t, 'p', {'font-size': 10, 'font-style': 'italic', dy: 4}); }}],
  legend: {x: 1608, dy: 9, w: 69, h: 32}});
tsPanel({name: 'proton-number-density', y: 2639, ymin: 0.25, ymax: 0.55, yticks: tsRange(0.25, 0.55, 0.05, 2), yfmt: v => v.toFixed(2),
  title: simple('Proton Number Density'), ylx: 48, ylab: simple('Np(#/cc)'),
  series: [{v: Np, c: '#0000ff', name: 'np-line', lab: simple('Np')}]});
tsPanel({name: 'proton-temperature', y: 2972, ymin: 0.012, ymax: 0.024, yticks: tsRange(0.012, 0.024, 0.002, 3), yfmt: v => v.toFixed(3),
  title: t => { t.textContent = 'Proton Temperature and '; tspan(t, 'T', {'font-style': 'italic', 'font-family': '"DejaVu Serif",serif'}); tspan(t, 'e', {'font-size': 14, 'font-style': 'italic', dy: 5}); tspan(t, '/', {dy: -5}); tspan(t, 'T', {'font-style': 'italic', 'font-family': '"DejaVu Serif",serif'}); tspan(t, 'p', {'font-size': 14, 'font-style': 'italic', dy: 5}); },
  ylx: 40, ylab: t => { t.textContent = 'Tp(10'; tspan(t, '6', {'font-size': 11, dy: -6}); tspan(t, 'K)', {dy: 6}); },
  series: [{v: Tp, c: '#0000ff', name: 'tp-line', lab: simple('Tp')}]});
// Tp legend (upper-left)
(function () {
  const lg = legendBox(123, 2980, 72, 27, 'legend');
  el('line', {x1: 134, x2: 156, y1: 2993, y2: 2993, stroke: '#0000ff', 'stroke-width': 2.4}, lg);
  txt(lg, 172, 2999, 'Tp', 15, 'start', 'legend-entry');
})();
</script>
</body></html>
